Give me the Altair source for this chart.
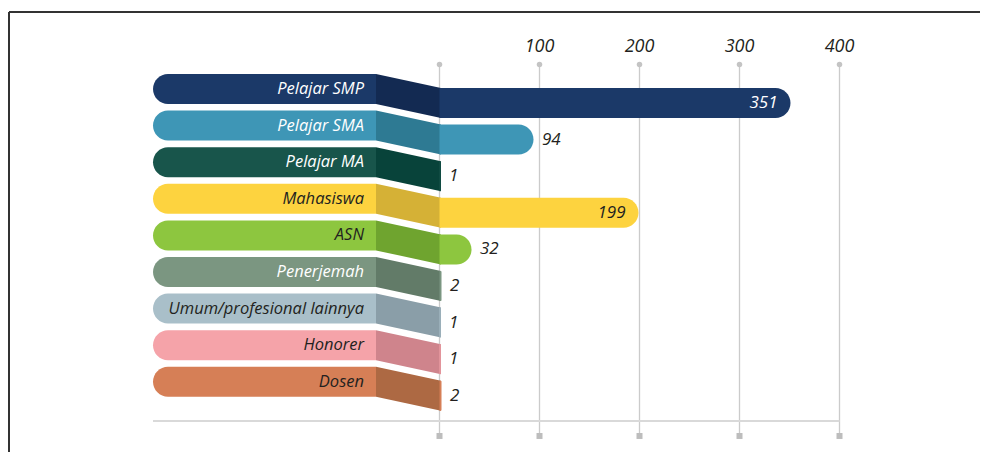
import altair as alt
import pandas as pd

categories = ["Pelajar SMP", "Pelajar SMA", "Pelajar MA", "Mahasiswa", "ASN",
              "Penerjemah", "Umum/profesional lainnya", "Honorer", "Dosen"]
values = [351, 94, 1, 199, 32, 2, 1, 1, 2]
main_colors = ["#1b3968", "#3e96b6", "#18554b", "#fdd33f", "#8dc63f",
               "#7b9681", "#a9bfc9", "#f5a3a9", "#d67f56"]
fold_colors = ["#132a52", "#2e7a93", "#08433a", "#d5b136", "#6fa42f",
               "#627b68", "#8a9ea8", "#cf848c", "#ad6943"]
label_colors = ["#ffffff", "#ffffff", "#ffffff", "#231f20", "#231f20",
                "#ffffff", "#231f20", "#231f20", "#231f20"]
tick_values = [0, 100, 200, 300, 400]
tick_labels = ["", "100", "200", "300", "400"]

# layout constants (in scale units)
BAND_START, BAND_END = -286.5, -63.5
HALF = 0.41      # half band height in row units
DROP = 0.383     # vertical fold offset in row units
DARK = "#231f20"

rows = []
for i, c in enumerate(categories):
    v = values[i]
    inside = v > 150
    rows.append(dict(cat=c, idx=i, value=v, color=main_colors[i], fold=fold_colors[i],
                     lcolor=label_colors[i],
                     band_y=i - HALF, band_y2=i + HALF,
                     bar_y=i + DROP - HALF, bar_y2=i + DROP + HALF, bar_c=i + DROP,
                     band_x=BAND_START, band_x2=BAND_END, label_x=-75.5,
                     vx=v - 13 if inside else v + 8.5,
                     valign="right" if inside else "left",
                     vcolor=label_colors[i] if inside else DARK,
                     vtext=str(v)))
df = pd.DataFrame(rows)

fold_rows = []
for r in rows:
    fold_rows.append(dict(cat=r["cat"], fold=r["fold"], x=BAND_END, y=r["band_y"], y2=r["band_y2"]))
    fold_rows.append(dict(cat=r["cat"], fold=r["fold"], x=1.5, y=r["bar_y"], y2=r["bar_y2"]))
fold_df = pd.DataFrame(fold_rows)

ticks_df = pd.DataFrame({"t": tick_values, "lab": tick_labels,
                         "gtop": -0.67, "gbot": 9.48, "ly": -1.148})

xs = alt.Scale(domain=[-431.5, 540.5], nice=False, zero=False)
ys = alt.Scale(domain=[-2.213, 9.918], nice=False, zero=False, reverse=True)


def X(f):
    return alt.X(f, type="quantitative", scale=xs, axis=None)


def Y(f):
    return alt.Y(f, type="quantitative", scale=ys, axis=None, stack=None)


base = alt.Chart(df)

frame_top = base.mark_rule(color="#333333", strokeWidth=1.5).encode(
    x=alt.value(1), x2=alt.value(980), y=alt.value(4))
frame_left = base.mark_rule(color="#333333", strokeWidth=1.5).encode(
    x=alt.value(1), y=alt.value(4), y2=alt.value(460))

grid = alt.Chart(ticks_df).mark_rule(color="#cbcbcb", strokeWidth=1.3).encode(
    x=X("t"), y=Y("gtop"), y2="gbot")
grid_dot = alt.Chart(ticks_df).mark_point(shape="circle", filled=True, size=30,
                                          color="#c4c4c4", opacity=1).encode(
    x=X("t"), y=Y("gtop"))
grid_sq = alt.Chart(ticks_df).mark_point(shape="square", filled=True, size=36,
                                         color="#bdbdbd", opacity=1).encode(
    x=X("t"), y=Y("gbot"))
tick_text = alt.Chart(ticks_df).mark_text(font="Open Sans", fontStyle="italic",
                                          fontSize=18, color=DARK, align="center",
                                          baseline="middle").encode(
    x=X("t"), y=Y("ly"), text="lab:N")

baseline_df = pd.DataFrame({"x": [BAND_START], "x2": [tick_values[-1]], "y": [9.07]})
base_rule = alt.Chart(baseline_df).mark_rule(color="#d9d9d9", strokeWidth=2).encode(
    x=X("x"), x2="x2", y=Y("y"))

bands = base.mark_bar(cornerRadiusTopLeft=15, cornerRadiusBottomLeft=15).encode(
    x=X("band_x"), x2="band_x2", y=Y("band_y"), y2="band_y2",
    color=alt.Color("color:N", scale=None))

folds = alt.Chart(fold_df).mark_area(orient="vertical", opacity=1).encode(
    x=X("x"), y=Y("y"), y2="y2",
    color=alt.Color("fold:N", scale=None), detail="cat:N")

bars = base.mark_bar(cornerRadiusTopRight=15, cornerRadiusBottomRight=15).encode(
    x=X("value"), x2=alt.datum(0), y=Y("bar_y"), y2="bar_y2",
    color=alt.Color("color:N", scale=None))

cat_text = base.mark_text(font="Open Sans", fontStyle="italic", fontSize=16.5,
                          align="right", baseline="middle").encode(
    x=X("label_x"), y=Y("idx"), text="cat:N",
    color=alt.Color("lcolor:N", scale=None))

val_in = base.transform_filter("datum.valign == 'right'").mark_text(
    font="Open Sans", fontStyle="italic", fontSize=17, align="right",
    baseline="middle").encode(
    x=X("vx"), y=Y("bar_c"), text="vtext:N", color=alt.Color("vcolor:N", scale=None))
val_out = base.transform_filter("datum.valign == 'left'").mark_text(
    font="Open Sans", fontStyle="italic", fontSize=17, align="left",
    baseline="middle").encode(
    x=X("vx"), y=Y("bar_c"), text="vtext:N", color=alt.Color("vcolor:N", scale=None))

chart = alt.layer(
    frame_top, frame_left, grid, base_rule, grid_dot, grid_sq, tick_text,
    bands, folds, bars, cat_text, val_in, val_out
).properties(
    width=972, height=444, padding=0, autosize=alt.AutoSizeParams(type="none")
).configure_view(stroke=None)

chart.save("out.html", embed_options={"renderer": "svg", "actions": False})
